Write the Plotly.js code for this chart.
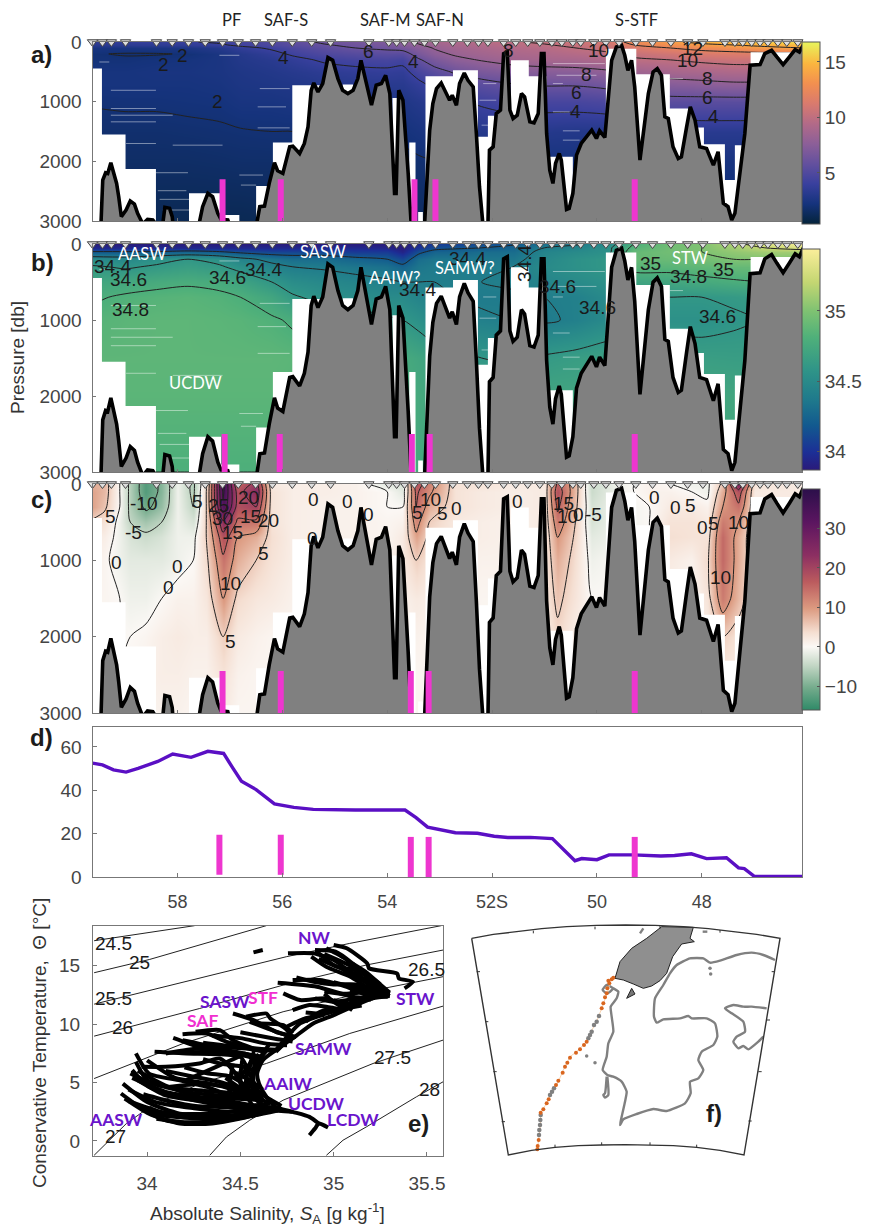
<!DOCTYPE html>
<html><head><meta charset="utf-8">
<script src="https://cdn.plot.ly/plotly-3.0.1.min.js"></script>
<style>html,body{margin:0;padding:0;background:#fff}#g{width:869px;height:1231px}</style>
</head><body><div id="g"></div>
<script>
// ---------- section data ----------
const stationLat=[59.62,59.43,59.26,58.99,58.40,58.10,57.79,57.47,57.14,56.84,56.51,56.19,55.81,55.44,55.08,54.35,53.97,53.82,53.67,53.48,53.29,53.08,52.75,52.47,52.26,52.08,51.78,51.55,51.32,51.09,50.86,50.67,50.46,50.31,50.06,49.83,49.58,49.26,48.94,48.59,48.27,47.98,47.56,47.37,47.22,47.05,46.89,46.74,46.55,46.38,46.17];
const bathyLat=[59.47,59.425,59.37,59.33,59.27,59.20,59.16,59.12,59.07,58.98,58.90,58.82,58.76,58.66,58.57,58.47,58.41,58.28,58.24,58.15,58.10,58.08,57.60,57.52,57.42,57.33,57.23,57.17,57.04,56.995,56.50,56.43,56.34,56.25,56.15,56.09,55.99,55.86,55.80,55.67,55.58,55.51,55.45,55.40,55.32,55.23,55.13,55.04,54.94,54.85,54.75,54.65,54.56,54.50,54.43,54.30,54.21,54.11,54.03,53.95,53.86,53.83,53.78,53.70,53.60,53.54,53.29,53.22,53.19,53.13,53.06,52.97,52.87,52.81,52.76,52.68,52.62,52.53,52.46,52.36,52.30,52.24,52.17,52.08,52.05,51.98,51.92,51.84,51.78,51.71,51.66,51.60,51.52,51.44,51.38,51.28,51.20,51.12,51.06,51.01,50.96,50.90,50.84,50.79,50.72,50.68,50.58,50.53,50.46,50.39,50.30,50.20,50.10,50.01,49.95,49.85,49.79,49.72,49.63,49.53,49.47,49.41,49.34,49.28,49.18,49.12,49.02,48.93,48.85,48.77,48.705,48.64,48.55,48.45,48.39,48.29,48.22,48.13,48.04,47.91,47.78,47.69,47.59,47.50,47.43,47.37,47.18,47.08,46.89,46.80,46.67,46.57,46.45,46.33,46.22,46.14,46.05,46.05];
const bathyDepth=[3300,2314,2191,2203,2024,2258,2370,2593,2927,2816,2665,2716,2872,3050,2972,2983,3050,3050,2771,2788,2927,3100,3100,2760,2537,2593,2872,2972,2983,3100,3100,2760,2749,2370,2024,2158,2203,1756,1745,1868,1701,1422,809,686,836,697,262,307,613,809,864,809,613,307,585,1059,725,697,558,864,2537,2537,809,976,2203,3100,3100,2091,1478,1032,781,686,864,976,892,1059,697,519,641,753,1533,2426,3100,3100,1812,1756,1199,1143,195,167,1143,1282,1227,864,920,1338,1355,1199,195,195,1533,2147,2370,2035,1868,1979,2805,2788,2537,1896,1701,1589,1478,1617,1489,1600,976,307,84,56,223,474,307,753,1979,1533,864,502,446,558,1255,1282,1756,1952,1924,1422,1087,1310,1756,1784,2063,1840,2704,2760,2983,2872,1533,390,379,195,139,251,379,251,128,167,28,3300];
// depth of the deepest sample in each column (3300: sampled to the bottom of the panel)
const columnEdges=[59.62,59.44,58.99,58.41,57.78,57.17,56.82,56.50,56.18,55.81,55.26,54.85,54.65,53.90,53.80,53.58,53.46,53.41,53.32,53.27,52.745,52.27,52.08,51.96,51.64,51.30,50.96,50.46,49.83,49.25,48.61,48.26,48.07,47.96,47.56,47.37,47.24,47.07,46.05];
const columnDepth=[446,1550,2130,3300,2537,2900,3300,2414,1684,725,3300,714,3300,937,3300,1684,3300,2850,3300,574,474,1589,1238,3300,307,574,1924,3300,112,541,1115,3300,1433,1712,2314,1729,3300,170];
const streakLatA=[59.27,58.41,null,59.27,58.41,null,59.27,58.09,null,59.27,58.41,null,58.98,58.41,null,58.09,57.14,null,58.41,57.80,null,58.375,57.83,null,58.34,57.64,null,58.28,57.64,null,56.82,56.37,null,56.79,56.5,null,56.43,55.86,null,56.47,55.93,null,56.47,55.86,null,57.2,56.82,null,59.49,59.3,null,50.84,49.85,null,50.77,50.01,null,50.84,50.65,null,50.84,50.52,null,50.65,50.33,null,50.65,50.33,null,52.17,51.92,null,52.24,51.92,null,52.2,52.05,null,48.61,48.36];
const streakP=[809,809,null,1115,1115,null,1227,1227,null,1338,1338,null,1701,1701,null,1729,1729,null,2191,2191,null,2492,2492,null,2637,2637,null,2816,2816,null,2230,2230,null,2398,2398,null,781,781,null,1087,1087,null,1439,1439,null,223,223,null,335,335,null,362,362,null,558,558,null,697,697,null,1171,1171,null,1489,1489,null,1645,1645,null,697,697,null,976,976,null,1394,1394,null,613,613];
const gridLat=[59.62,59,58.4,57.8,57.2,56.8,56.2,55.8,55.2,54.6,54,53.7,53.4,53.1,52.7,52.2,51.6,51,50.4,49.8,49.3,48.6,48,47.4,46.8,46.05];
const gridP=[0,50,100,200,300,500,700,1000,1500,2000,3000];
const theta=[
[3.6,3.7,3.8,3.9,4.2,4.5,5,5.6,6.2,6.6,7,7.6,8.2,8.8,9.2,9.6,9.9,10.2,10.6,11,12.6,13.6,14.6,15,15.5,16],
[3.2,3.3,3.4,3.5,3.8,4.3,4.8,5.3,5.9,6.3,6.7,7.2,7.9,8.4,8.9,9.3,9.7,9.9,10.3,10.7,12,13,13.5,14,14.5,15],
[2.4,2.4,2.5,2.6,3.0,3.6,4.2,4.8,5.5,6,6.3,6.6,7.4,8.1,8.6,9,9.4,9.6,10,10.4,11.2,12,12.6,13,13.5,14],
[2.05,1.95,1.95,2.05,2.5,3,3.6,4.2,4.9,5.2,5.4,5.3,6.7,7.6,8.2,8.6,9,9.2,9.5,9.8,10.3,10.8,11.2,11.4,11.5,11.5],
[2.1,2.1,2.2,2.3,2.5,2.9,3.2,3.6,4.2,4.5,4.6,4.4,5.8,6.8,7.6,8.1,8.6,8.8,8.9,9.2,9.8,10,10.3,10.5,10.5,10.5],
[2.3,2.3,2.4,2.4,2.5,2.7,2.9,3.1,3.4,3.6,3.7,3.6,4.6,5.4,6.2,6.8,7.2,7.4,7.5,7.8,8.4,8.8,9,9.2,9.2,9.2],
[2.3,2.3,2.3,2.3,2.4,2.6,2.7,2.8,3.0,3.1,3.2,3.2,3.7,4.4,5,5.5,6,6.2,6.2,6.5,7.2,7.4,7.6,7.8,7.8,7.8],
[2.05,2.1,2.1,2.15,2.2,2.4,2.4,2.5,2.6,2.7,2.7,2.7,3.0,3.4,3.8,4.2,4.6,4.6,4.6,4.8,5.2,5.4,5.4,5.4,5.4,5.4],
[1.8,1.8,1.8,1.85,1.9,1.95,2,2,2.1,2.2,2.2,2.2,2.4,2.6,2.8,3,3.1,3,2.9,2.9,3,3.1,3.2,3.2,3.2,3.2],
[1.6,1.6,1.6,1.6,1.65,1.7,1.7,1.7,1.8,1.8,1.8,1.8,1.9,2,2.1,2.2,2.3,2.3,2.3,2.3,2.4,2.4,2.4,2.4,2.4,2.4],
[1.1,1.1,1.1,1.1,1.1,1.1,1.2,1.2,1.2,1.3,1.3,1.3,1.4,1.5,1.6,1.6,1.7,1.7,1.7,1.8,1.8,1.8,1.8,1.8,1.8,1.8]];
const salinity=[
[33.88,33.88,33.88,33.88,33.88,33.88,33.88,33.88,33.88,33.88,33.88,33.87,33.95,34.05,34.08,34.12,34.18,34.32,34.38,34.5,34.8,34.95,35.0,35.15,35.3,35.4],
[33.96,33.96,33.96,33.96,33.96,33.96,33.96,33.96,33.96,33.96,33.94,33.88,34.03,34.14,34.18,34.2,34.25,34.4,34.45,34.55,34.85,34.95,35.0,35.1,35.2,35.3],
[34.2,34.2,34.2,34.25,34.2,34.15,34.1,34.1,34.1,34.05,34.05,33.93,34.15,34.25,34.25,34.3,34.3,34.45,34.5,34.55,34.9,34.95,35.0,35.05,35.1,35.1],
[34.5,34.48,34.55,34.6,34.55,34.45,34.35,34.3,34.3,34.25,34.2,34.1,34.3,34.35,34.35,34.35,34.35,34.48,34.55,34.6,34.9,34.92,34.95,35.0,35.0,35.0],
[34.62,34.58,34.62,34.66,34.62,34.55,34.45,34.4,34.38,34.35,34.32,34.25,34.35,34.38,34.4,34.38,34.4,34.5,34.55,34.6,34.85,34.85,34.88,34.9,34.9,34.9],
[34.72,34.73,34.76,34.78,34.76,34.7,34.6,34.52,34.48,34.45,34.42,34.4,34.4,34.4,34.4,34.4,34.42,34.45,34.5,34.55,34.7,34.72,34.75,34.78,34.8,34.8],
[34.78,34.82,34.84,34.85,34.83,34.8,34.72,34.62,34.55,34.52,34.5,34.5,34.45,34.42,34.4,34.38,34.38,34.4,34.42,34.5,34.6,34.6,34.6,34.62,34.65,34.65],
[34.84,34.86,34.87,34.87,34.86,34.85,34.82,34.78,34.7,34.68,34.62,34.6,34.55,34.48,34.45,34.42,34.4,34.38,34.42,34.5,34.55,34.55,34.55,34.58,34.6,34.6],
[34.87,34.87,34.87,34.87,34.87,34.87,34.87,34.86,34.84,34.82,34.78,34.76,34.72,34.68,34.65,34.6,34.58,34.62,34.65,34.68,34.68,34.68,34.66,34.65,34.65,34.65],
[34.86,34.86,34.86,34.86,34.86,34.86,34.86,34.85,34.85,34.83,34.8,34.78,34.75,34.72,34.72,34.72,34.72,34.72,34.72,34.72,34.72,34.72,34.72,34.72,34.72,34.72],
[34.8,34.8,34.8,34.8,34.8,34.8,34.8,34.8,34.8,34.8,34.78,34.76,34.75,34.74,34.74,34.74,34.74,34.74,34.74,34.74,34.74,34.74,34.74,34.74,34.74,34.74]];
const curlLat=[59.62,59.4,59.1,58.9,58.6,58.3,58.0,57.7,57.45,57.13,56.85,56.5,56.2,55.8,55.2,54.6,54.0,53.7,53.45,53.2,52.7,52.2,51.6,51.0,50.75,50.45,50.1,49.6,49.0,48.6,48.2,47.9,47.6,47.3,47.0,46.05];
const curlP=[0,100,300,500,700,1000,1500,2000,2500,3000];
const curl=[
[8,7,0,-6,-13,-9,-1,-6,4,37,15,22,2,1.5,1.5,1,-2,-3,18,12,3,3,2,2,16,8,-4,-1,1,0,-1,-1,6,26,3,2],
[9,7,0,-6,-13,-9,-1,-6,5,36,18,24,3,1.5,1.5,1,0,-2,16,11,3,2,1.5,2,18,8,-4,-1,1,1,0,-1,8,18,2,2],
[9,6,0,-6,-11,-8,-1,-5,5,34,18,20,3,1.5,1,1,0,0,15,8,3,2,1.5,2,16,7,-3,-1,0,2,2,1,10,14,2,2],
[4,3,-1,-5,-7,-5,-1,-3,5,24,14,14,3,1.5,1,1,.5,1,12,5,2,1.5,1,2,13,6,-3,-1,0,3,3,2,13,10,2,1],
[2,1.5,-1,-3,-4,-3,-1,-1,5,18,10,8,3.5,1.5,1,1,.5,2,9,4,2,1.5,1,2,10,5,-2,-1,0,3.5,3,3,15,8,2,1],
[1.5,.5,-1,-2,-2,-2,-1,0,4,14,8,5,3,1.5,1,.5,.5,2,5,3,1.5,1,1,2,8,4,-1,0,0,2,1,4,15,8,2,1],
[.5,.5,0,-1,-1,0,1,1,2.5,10,4,2.5,2,1,.5,.5,.5,1,2,1.5,1,.5,.5,2,6,3,0,0,0,1,0,3,13,7,2,.5],
[.5,.5,0,0,.5,1.5,2,1.5,1.5,5,2,1,.5,.5,.5,.5,.5,.5,1,.5,.5,.5,.5,1.5,4,1.5,.5,0,0,0,0,1.5,5,3,1,.5],
[0,0,0,.5,1,1.5,1.5,1,1,3,1,.5,.5,.5,.5,.5,.5,.5,.5,.5,.5,.5,.5,1,2,.5,.5,0,0,0,0,.5,2,1,.5,.5],
[0,0,0,.5,.5,1,1,.5,.5,2,.5,.5,.5,.5,.5,.5,.5,.5,.5,.5,.5,.5,.5,.5,1,.5,.5,0,0,0,0,.5,1,.5,.5,.5]];
const frontLatA=[57.14,56.03,53.48,53.08,49.28];
const frontLatB=[57.10,56.05,53.53,53.19,49.28];
const frontLatC=[57.14,56.03,53.55,53.21,49.28];
const frontLatD=[57.2,56.03,53.55,53.21,49.28];
const frontTopD=[19.5,19.5,18.5,18.5,18.5];
// ---------- panel d ----------
const lineLat=[59.62,59.43,59.22,58.98,58.75,58.375,58.09,57.74,57.42,57.12,56.94,56.78,56.50,56.15,55.78,55.41,54.61,53.66,53.45,53.23,52.70,52.28,51.96,51.70,51.27,50.85,50.42,50.29,50.00,49.77,49.31,48.78,48.52,48.20,47.91,47.53,47.30,47.19,47.00,46.09];
const lineVal=[52.5,51.7,49.4,48.4,50.1,53.3,56.7,55.2,58.0,57.0,50.1,44.2,40.3,33.7,32.1,31.2,30.9,30.9,27.4,23.0,20.4,20.2,18.8,18.2,18.3,17.7,7.5,8.5,8.0,10.2,10.2,9.7,9.9,10.7,8.5,8.9,4.2,3.9,0.3,0.3];
// ---------- panel e ----------
const isoS=[[33.716,34.255],[33.716,34.014,34.639],[33.716,34.282,34.746,35.086,35.354,35.577],[33.716,34.282,34.729,35.175,35.586],[33.716,34.193,34.729,35.175,35.586],[33.716,33.8,33.889,34.014,34.282,34.639,35.086,35.586],[34.336,34.425,34.55,34.729,35.211,35.586],[34.961,35.05,35.175,35.443,35.586]];
const isoT=[[17.14,18.43],[14.4,15.54,18.43],[11.71,13.91,15.77,16.91,17.71,18.43],[8.97,11.34,13.34,15.06,16.34],[5.34,8.34,11.06,12.77,14.06],[-1.23,0.06,1.49,2.91,4.91,6.63,9.2,11.54],[-1.23,0.34,1.77,3.49,6.63,8.63],[-1.23,0.06,1.2,3.77,5.06]];
const tsS=[[33.86,33.96,34.10,34.28,34.46,34.64,34.78],[33.87,34.0,34.175,34.37,34.55,34.69],[33.88,34.01,34.175,34.35,34.5,34.64],[33.92,34.01,34.175,34.34,34.5,34.66],[33.94,34.0,34.14,34.28,34.46,34.62],[33.94,34.01,34.175,34.32,34.44,34.62],[33.91,34.03,34.21,34.37,34.57],[33.97,34.10,34.28,34.39,34.46,34.53,34.62],[34.04,34.21,34.37,34.5,34.55,34.59],[34.14,34.28,34.425,34.57,34.57,34.62],[34.19,34.32,34.425,34.57,34.53,34.6],[34.19,34.37,34.53,34.64],[34.26,34.39,34.46,34.6,34.69],[34.10,34.28,34.46,34.59,34.55],[34.21,34.37,34.53],[34.46,34.57,34.69,34.76,34.69],[34.53,34.64,34.66,34.75,34.78],[34.6,34.73,34.78],[34.70,34.91,35.10,35.21],[34.73,34.82,34.96,35.07,35.10],[34.78,34.925,35.07,35.175,35.29],[34.78,34.87,34.96,35.05],[35.0,35.09,35.10,35.21],[35.0,35.07,35.18,35.19,35.34,35.35,35.425,35.38],[34.755,34.89,35.0,35.10,35.21,35.30],[34.90,35.01,35.10,35.175,35.28],[34.88,34.96,35.09,35.19,35.30],[34.91,35.0,35.14,35.26],[34.96,35.07,35.16,35.26],[35.07,35.175,35.29],[34.87,34.90,34.92,34.97],[34.92,34.87,34.78,34.69,34.64,34.60,34.59,34.62,34.69,34.78,34.89,35.0,35.10,35.21,35.30],[34.57,34.62],[34.46,34.44,34.46],[34.51,34.5,34.57],[34.57,34.53,34.62],[34.69,34.82,34.96,35.10,35.23],[34.64,34.57,34.57,34.64],
[33.9,34.05,34.2,34.4,34.6],[33.9,34.05,34.25,34.45,34.65],[33.95,34.1,34.3,34.5,34.65],[33.95,34.12,34.3,34.5,34.62],[34.0,34.15,34.3,34.42,34.55],[34.1,34.25,34.4,34.55],[34.2,34.32,34.45,34.55],[34.05,34.2,34.4,34.55,34.7],[34.0,34.15,34.3,34.45,34.6],[34.1,34.3,34.45],[34.2,34.35,34.5,34.62],[34.3,34.45,34.6,34.7],[34.3,34.4,34.5,34.58],[34.45,34.55,34.62],[34.42,34.5,34.58],[34.35,34.5,34.65,34.75],[34.5,34.6,34.7,34.78],[34.55,34.65,34.72,34.8],[34.85,34.95,35.05,35.15],[34.9,35.0,35.1,35.2],[34.95,35.05,35.15,35.25],[35.0,35.1,35.2,35.3],[35.05,35.12,35.22,35.3],[35.1,35.17,35.25,35.3],[34.92,35.02,35.12,35.22],[34.95,35.05,35.15,35.25],[34.8,34.9,35.0,35.12,35.2],[34.75,34.85,34.95],[34.85,34.92,35.0],[34.95,35.0,35.06],[33.95,34.08,34.22,34.36,34.48,34.6],[33.92,34.1,34.28,34.44,34.58],[33.98,34.12,34.26,34.4,34.52],[34.6,34.54,34.5,34.56,34.66],[34.66,34.6,34.56,34.6,34.72]];
const tsT=[[4.06,2.91,1.77,1.49,2.06,2.63,2.49],[4.91,3.34,2.34,2.34,2.77,2.91],[3.63,2.34,1.49,1.49,1.91,2.49],[6.06,4.63,3.77,3.2,2.91,3.2],[6.77,5.2,4.49,3.77,3.63,3.49],[7.49,5.77,5.2,4.63,3.91,3.49],[5.77,4.91,4.2,3.91,3.77],[6.34,6.34,6.63,7.06,6.06,4.34,3.49],[7.63,7.49,7.43,7.2,5.77,3.77],[8.83,8.06,7.77,7.2,4.91,3.49],[9.14,9.2,8.49,7.77,5.49,3.77],[8.63,8.06,7.91,7.63],[9.34,9.49,8.63,7.77,7.77],[7.49,7.91,7.49,6.91,4.91],[5.2,6.34,7.49],[10.91,10.34,9.34,8.91,7.63],[10.63,10.91,10.49,9.49,8.63],[10.06,9.91,9.2],[13.54,13.2,12.34,12.2],[12.63,12.06,12.2,11.49,11.2],[13.77,13.77,13.2,12.49,12.34],[11.2,11.63,11.49,11.2],[12.06,11.77,12.91,12.91],[16.77,16.49,15.2,14.77,14.34,13.91,13.63,13.06],[16.06,16.06,15.49,14.34,13.2,12.4],[16.34,16.2,15.2,14.06,12.63],[15.77,14.91,14.06,13.06,12.4],[16.2,15.06,14.06,12.49],[16.49,15.49,13.77,12.63],[14.63,13.77,12.49],[0.49,1.06,1.49,1.15],[1.49,2.06,2.49,2.91,3.77,4.91,5.77,6.91,7.77,8.77,10.06,10.77,11.49,12.2,12.4],[16.14,16.34],[6.63,4.34,3.2],[6.91,4.91,2.91],[7.2,4.91,2.91],[7.77,10.06,10.91,11.77,12.63],[7.77,6.06,3.77,2.91],
[3.4,2.6,2.0,1.9,2.5],[4.4,3.3,2.8,2.5,2.7],[5.2,3.9,3.4,3.1,3.0],[6.0,4.6,4.3,4.0,3.4],[6.9,5.4,5.0,4.6,3.9],[6.0,5.5,5.0,4.2],[6.3,5.8,5.5,4.5],[1.9,1.6,1.7,2.1,2.6],[2.6,2.3,2.3,2.2,2.5],[4.6,4.9,4.6],[7.6,7.6,7.5,7.2],[8.4,8.1,7.9,7.8],[7.0,6.6,6.4,6.0],[6.0,5.2,4.4],[5.4,4.5,3.5],[9.0,8.8,8.3,8.2],[9.3,9.0,8.7,8.5],[10.2,9.6,9.2,8.9],[11.0,10.9,11.3,11.6],[12.2,11.9,12.1,12.1],[12.8,12.6,12.7,12.6],[13.6,13.2,12.9,12.5],[14.6,14,13.3,12.6],[15.2,14.5,13.4,12.7],[15.6,14.9,14.6,13.7],[16.0,15.3,14.5,13.4],[14.0,13.6,13.4,13.4,13.0],[9.8,10.5,10.8],[10.2,11,11.4],[12.6,11.9,11.3],[3.0,2.2,2.0,2.0,2.2,2.7],[5.4,4.2,3.7,3.4,3.0],[4.0,3.4,3.0,2.9,2.8],[7.4,6.4,5.2,4.0,3.2],[8.4,7.0,5.6,4.2,3.0]];
// ---------- panel f (map units) ----------
const wedgeX=[65,130,200,275,350,440,527,615,700,775,850,920,990,882,810,740,670,600,527,455,385,315,245,175,65];
const wedgeY=[85,73,65,56,50,46,45,46,50,56,65,73,85,735,721,712,707,705,704,705,707,712,721,735,85];
const gratX=[250,250,null,435,435,null,630,630,null,810,810,null,315,315,null,455,455,null,600,600,null,740,740,null,90,80,null,115,105,null,140,130,null,165,155,null,965,975,null,950,960,null,925,935,null,895,905];
const gratY=[62,70,null,50,58,null,48,56,null,60,68,null,712,704,null,705,697,null,705,697,null,712,704,null,185,185,null,335,335,null,485,485,null,635,635,null,185,185,null,330,330,null,485,485,null,633,633];
const landX=[495,510,545,590,635,730,720,733,695,668,650,630,605,580,550,520,495];
const landY=[205,155,115,85,50,52,85,95,102,140,190,212,228,235,222,210,205];
const isleX=[530,545,555,530];
const isleY=[265,235,252,265];
const shelfX=[975,940,905,860,810,780,760,720,680,660,640,615,612,620,640,690,715,725,770,795,802,790,755,745,760,745,720,722,705,650,610,560,520,510,515,525,530,515,490,472,458,470,475,490,485,482,500,505,490,470,458,470,480,490,null,950,905,880,850,825,845,880,885,860,850,865,880,895,925,940,null,470,465,460,465,475,472,null,570,580,null,758,772];
const shelfY=[150,135,128,135,152,158,145,145,165,190,225,265,320,338,328,325,318,325,325,340,380,405,425,450,480,505,515,550,580,603,597,612,628,645,620,575,545,515,500,495,480,440,400,365,320,290,265,245,235,225,240,250,245,235,null,295,290,290,285,295,310,335,365,380,395,415,408,418,395,380,null,500,550,555,563,555,500,null,70,55,null,65,65];
const sDotX=[780,782,410,435];
const sDotY=[175,192,438,458];
const trackX=[262,265,272,272,290,310,325,340,360,380,405,420,440,455,465,475,480,490];
const trackY=[720,690,640,608,580,540,515,480,440,425,400,370,335,295,265,240,215,205];
const orangeX=[262,263,266,272,280,290,296,318,325,338,345,352,360,378,390,402,410,455,460,465,470,472,478,485,475,490];
const orangeY=[718,708,690,608,598,580,568,525,512,488,470,458,443,428,418,405,395,295,280,262,250,235,220,208,212,203];
const greyX=[272,271,270,268,267,300,306,312,415,420,425,432,440,447];
const greyY=[615,630,645,660,675,555,545,535,385,375,365,345,335,318];

// ---------- styling ----------
const W=869,H=1231;
const thermal=[[0,'#04233a'],[.11,'#15337c'],[.22,'#39409e'],[.33,'#63509e'],[.44,'#8c5f98'],[.55,'#b26a88'],[.66,'#d97a6e'],[.77,'#f28f50'],[.88,'#fbb53f'],[1,'#e8f55c']];
const haline=[[0,'#2a1a7a'],[.08,'#1c2f96'],[.2,'#12598f'],[.32,'#1f7a8c'],[.45,'#2f9488'],[.6,'#4fb07a'],[.72,'#7fc272'],[.85,'#c4d672'],[1,'#fbee9a']];
const curlCS=[[0,'#2f8a68'],[.1,'#74ab8c'],[.2,'#c2d6c4'],[.286,'#fbf8f5'],[.35,'#f5dfd2'],[.46,'#dc9a80'],[.58,'#bb5b5e'],[.7,'#8c2f62'],[.85,'#5b1560'],[1,'#2b0f4a']];
const grey='#444',axc='#777';
const sans='"Liberation Sans",Arial,sans-serif',cal='Lato,"Open Sans",sans-serif';
const dom=(a,b,s)=>[a/s,b/s];
const domY=(a,b)=>[1-b/H,1-a/H];
const traces=[];
const maskX=[],maskY=[];
columnDepth.forEach((d,i)=>{maskX.push(columnEdges[i],columnEdges[i+1]);maskY.push(d,d);});
maskX.push(46.05,59.62);maskY.push(3400,3400);

function section(n,lat,p,z,cs,zmin,zmax,cb,lev,fronts,ftop,streak){
  const xa='x'+(n>1?n:''),ya='y'+(n>1?n:'');
  traces.push({type:'heatmap',x:lat,y:p,z:z,colorscale:cs,zmin:zmin,zmax:zmax,zsmooth:'best',xaxis:xa,yaxis:ya,hoverinfo:'skip',colorbar:cb});
  traces.push({type:'contour',x:lat,y:p,z:z,autocontour:false,contours:{coloring:'none',start:lev[0],end:lev[1],size:lev[2],showlabels:false},line:{color:'#222',width:1,smoothing:.8},showscale:false,xaxis:xa,yaxis:ya,hoverinfo:'skip'});
  if(streak) traces.push({type:'scatter',mode:'lines',x:streakLatA,y:streakP,line:{color:'rgba(255,255,255,.45)',width:1},xaxis:xa,yaxis:ya,connectgaps:false});
  traces.push({type:'scatter',mode:'lines',x:maskX,y:maskY,fill:'toself',fillcolor:'#fff',line:{width:0},xaxis:xa,yaxis:ya});
  traces.push({type:'scatter',mode:'lines',x:bathyLat,y:bathyDepth,fill:'toself',fillcolor:'#808080',line:{color:'#000',width:3.6},xaxis:xa,yaxis:ya});
  const fx=[],fy=[];fronts.forEach(f=>{fx.push(f,f,null);fy.push(ftop,3000,null);});
  traces.push({type:'scatter',mode:'lines',x:fx,y:fy,line:{color:'#ee36cf',width:6},xaxis:xa,yaxis:ya});
  traces.push({type:'scatter',mode:'markers',x:stationLat,y:stationLat.map(()=>0),cliponaxis:false,marker:{symbol:'triangle-down',size:9,color:'#ddd',line:{color:'#444',width:1}},xaxis:xa,yaxis:ya});
}
const cbar=(top,bot,vals)=>({x:802/W,xanchor:'left',xpad:0,ypad:0,y:1-top/H,yanchor:'top',len:bot-top,lenmode:'pixels',thickness:18,thicknessmode:'pixels',outlinecolor:'#555',outlinewidth:1,tickvals:vals,tickfont:{family:sans,size:19,color:grey},ticks:'inside',ticklen:3,tickcolor:'#555',ticklabelstandoff:6});
section(1,gridLat,gridP,theta,thermal,0.4,16.8,cbar(42,224,[5,10,15]),[2,16,2],frontLatA,2300,true);
section(2,gridLat,gridP,salinity,haline,33.87,35.44,cbar(249,470,[34,34.5,35]),[34.2,35.4,.2],frontLatB,2500,true);
section(3,curlLat,curlP,curl,curlCS,-16,40,cbar(489,710,[-10,0,10,20,30]),[-15,40,5],frontLatC,2450,false);
// panel d
traces.push({type:'scatter',mode:'lines',x:lineLat,y:lineVal,line:{color:'#5a0fc4',width:3.4},xaxis:'x4',yaxis:'y4'});
{const fx=[],fy=[];frontLatD.forEach((f,i)=>{fx.push(f,f,null);fy.push(frontTopD[i],i<2?1:0,null);});
traces.push({type:'scatter',mode:'lines',x:fx,y:fy,line:{color:'#ee36cf',width:6},xaxis:'x4',yaxis:'y4'});}
// panel e
const join=a=>a.reduce((o,s,i)=>o.concat(i?[null]:[],s),[]);
traces.push({type:'scatter',mode:'lines',x:join(isoS),y:join(isoT),line:{color:'#222',width:1},xaxis:'x5',yaxis:'y5'});
traces.push({type:'scatter',mode:'lines',x:join(tsS),y:join(tsT),line:{color:'#000',width:4,shape:'spline',smoothing:.6},xaxis:'x5',yaxis:'y5'});
// panel f
const m=(o)=>Object.assign({type:'scatter',xaxis:'x6',yaxis:'y6'},o);
traces.push(m({mode:'lines',x:landX,y:landY,fill:'toself',fillcolor:'#8f8f8f',line:{color:'#222',width:1}}));
traces.push(m({mode:'lines',x:isleX,y:isleY,fill:'toself',fillcolor:'#777',line:{color:'#222',width:1}}));
traces.push(m({mode:'lines',x:shelfX,y:shelfY,line:{color:'#808080',width:2.4,shape:'spline',smoothing:.5}}));
traces.push(m({mode:'markers',x:sDotX,y:sDotY,marker:{color:'#808080',size:3.5}}));
traces.push(m({mode:'lines',x:trackX,y:trackY,line:{color:'#f7d3b0',width:1}}));
traces.push(m({mode:'markers',x:greyX,y:greyY,marker:{color:'#808080',size:4.5}}));
traces.push(m({mode:'markers',x:orangeX,y:orangeY,marker:{color:'#d9661f',size:4}}));
traces.push(m({mode:'lines',x:wedgeX,y:wedgeY,line:{color:'#333',width:1.4}}));
traces.push(m({mode:'lines',x:gratX,y:gratY,line:{color:'#333',width:1}}));

// ---------- axes ----------
const latRange=[59.62,46.09];
const xBase={range:latRange,showgrid:false,zeroline:false,showline:true,linecolor:axc,linewidth:1,mirror:true,tickvals:[58,56,54,52,50,48],ticks:'inside',ticklen:3,tickcolor:axc};
const yPress={range:[3000,0],showgrid:false,zeroline:false,showline:true,linecolor:axc,linewidth:1,mirror:true,tickvals:[0,1000,2000,3000],ticks:'inside',ticklen:3,tickcolor:axc,tickfont:{family:sans,size:19,color:grey},ticklabelstandoff:6};
const xd=dom(92.5,802,W);
const layout={width:W,height:H,margin:{l:0,r:0,t:0,b:0},paper_bgcolor:'#fff',plot_bgcolor:'rgba(0,0,0,0)',showlegend:false,
 xaxis:Object.assign({},xBase,{domain:xd,anchor:'y',showticklabels:false}),yaxis:Object.assign({},yPress,{domain:domY(42,221),anchor:'x'}),
 xaxis2:Object.assign({},xBase,{domain:xd,anchor:'y2',showticklabels:false}),yaxis2:Object.assign({},yPress,{domain:domY(244,472),anchor:'x2'}),
 xaxis3:Object.assign({},xBase,{domain:xd,anchor:'y3',showticklabels:false}),yaxis3:Object.assign({},yPress,{domain:domY(484,713),anchor:'x3'}),
 xaxis4:Object.assign({},xBase,{domain:xd,anchor:'y4',ticktext:['58','56','54','52S','50','48'],tickfont:{family:sans,size:18,color:grey},ticklen:4,ticklabelstandoff:8}),
 yaxis4:{domain:domY(727,877),anchor:'x4',range:[0,69.2],tickvals:[0,20,40,60],showgrid:false,zeroline:false,showline:true,linecolor:axc,mirror:true,ticks:'inside',ticklen:4,tickcolor:axc,tickfont:{family:sans,size:19,color:grey},ticklabelstandoff:6},
 xaxis5:{domain:dom(93,443,W),anchor:'y5',range:[33.71,35.586],tickvals:[34,34.5,35,35.5],ticktext:['34','34.5','35','35.5'],showgrid:false,zeroline:false,showline:true,linecolor:axc,mirror:true,ticks:'inside',ticklen:4,tickcolor:axc,tickfont:{family:sans,size:19,color:grey},ticklabelstandoff:10},
 yaxis5:{domain:domY(926,1156),anchor:'x5',range:[-1.29,18.4],tickvals:[0,5,10,15],showgrid:false,zeroline:false,showline:true,linecolor:axc,mirror:true,ticks:'inside',ticklen:4,tickcolor:axc,tickfont:{family:sans,size:19,color:grey},ticklabelstandoff:8},
 xaxis6:{domain:[450/W,1],anchor:'y6',range:[0,1257],visible:false},
 yaxis6:{domain:domY(910,1230),anchor:'x6',range:[960,0],visible:false},
 annotations:[]};
function ann(t,x,y,o){layout.annotations.push(Object.assign({text:t,x:x/W,y:1-y/H,xref:'paper',yref:'paper',showarrow:false,xanchor:'center',yanchor:'middle',font:{family:sans,size:17,color:'#222'}},o||{}));}
// front names
[['PF',232],['SAF-S',286],['SAF-M',385],['SAF-N',440],['S-STF',636]].forEach(a=>ann(a[0],a[1],20,{font:{family:cal,size:16.5,color:'#222'}}));
// panel letters
[['a)',41,55],['b)',42,262],['c)',41,500],['d)',41,737],['e)',418,1123],['f)',714,1113]].forEach(a=>ann(a[0],a[1],a[2],{font:{family:sans,size:24,color:'#1c1c1c',weight:700}}));
// axis titles
ann('Pressure [db]',17,358,{textangle:-90,font:{family:sans,size:19,color:'#333'}});
ann('Conservative Temperature,  Θ [°C]',39,1043,{textangle:-90,font:{family:sans,size:19,color:'#333'}});
ann('Absolute Salinity, <i>S</i><sub>A</sub> [g kg<sup>-1</sup>]',267,1213,{font:{family:sans,size:19,color:'#333'}});
// contour labels
const lab=(t,x,y,o)=>ann(t,x,y,Object.assign({font:{family:sans,size:19,color:'#1a1a1a'}},o||{}));
[['2',163,65],['2',182,56],['2',217,102],['4',283,57],['6',368,52],['4',413,61],['8',508,50],['10',598,50],['8',586,74],['6',576,93],['4',575,111],['12',692,48],['10',687,60],['8',707,79],['6',707,97],['4',713,117]].forEach(a=>lab(a[0],a[1],a[2]));
[['34.4',112,267],['34.6',128,280],['34.8',130,309],['34.6',227,278],['34.4',263,269],['34.4',417,290],['34.4',467,258],['34.6',557,286],['34.6',597,307],['35',650,264],['34.8',688,277],['35',723,269],['34.6',717,317]].forEach(a=>lab(a[0],a[1],a[2]));
lab('34.4',525,264,{textangle:-90});
[['-10',143,503],['-5',133,532],['0',117,562],['0',177,567],['0',168,587],['5',110,517],['5',197,502],['5',230,641],['10',230,583],['15',233,532],['20',248,497],['15',250,517],['20',268,520],['5',263,553],['25',218,505],['30',222,518],['0',313,499],['0',312,538],['0',347,502],['0',368,515],['5',417,512],['10',430,500],['5',442,513],['0',456,508],['0',517,502],['15',563,503],['10',567,517],['0',578,515],['-5',593,515],['0',654,497],['0',675,507],['5',690,505],['0',702,528],['5',713,523],['10',738,522],['10',720,578]].forEach(a=>lab(a[0],a[1],a[2]));
// water masses
const wh={font:{family:cal,size:16.5,color:'#fff'}};
[['AASW',142,254],['SASW',323,252],['AAIW?',394,278],['SAMW?',465,268],['STW',690,258],['UCDW',195,383]].forEach(a=>ann(a[0],a[1],a[2],wh));
// panel e labels
[['24.5',113,943],['25',139,963],['25.5',113,998],['26',122,1027],['26.5',426,969],['27',115,1136],['27.5',392,1057],['28',429,1089]].forEach(a=>lab(a[0],a[1],a[2]));
const pu={font:{family:cal,size:17.5,color:'#6a14cc',weight:700}},mg={font:{family:cal,size:17.5,color:'#f02fd0',weight:700}};
[['NW',314,937],['SASW',225,1001],['STW',415,998],['SAMW',323,1048],['AAIW',287,1083],['UCDW',316,1103],['LCDW',353,1119],['AASW',116,1119]].forEach(a=>ann(a[0],a[1],a[2],pu));
[['STF',263,997],['SAF',202,1020]].forEach(a=>ann(a[0],a[1],a[2],mg));

Plotly.newPlot('g',traces,layout,{displayModeBar:false,staticPlot:true});
</script></body></html>
